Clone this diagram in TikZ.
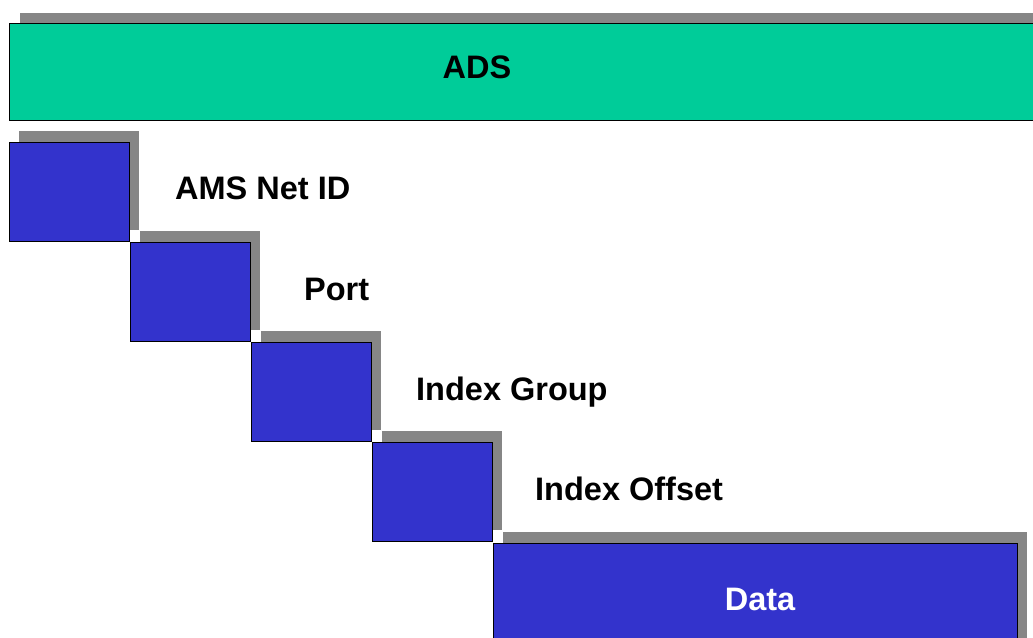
\documentclass[tikz,border=0pt]{standalone}
\usepackage{fontspec}
\setmainfont{Liberation Sans}
\usetikzlibrary{shadows}
\definecolor{adsgreen}{HTML}{00CC99}
\definecolor{boxblue}{HTML}{3333CC}
\definecolor{shadegray}{HTML}{868686}
\begin{document}
\begin{tikzpicture}[x=1pt,y=-1pt,
  lbl/.style={inner sep=0pt,anchor=base west,font=\fontsize{32.5}{38}\selectfont\bfseries},
  shd/.style={drop shadow={shadow xshift=10pt,shadow yshift=11pt,fill=shadegray,opacity=1}},
  stepbox/.style={shd,draw=black,line width=1pt,fill=boxblue,anchor=north west,
    minimum width=120pt,minimum height=99pt,inner sep=0pt,outer sep=0pt}]
\useasboundingbox (0,0) rectangle (1033,637);
\clip (0,0) rectangle (1033,637);
\fill[white] (0,0) rectangle (1033,637);
% ADS bar
\node[shd,draw=black,line width=1pt,fill=adsgreen,anchor=north west,
  minimum width=1050pt,minimum height=97pt,inner sep=0pt] (ads) at (9,23) {};
\node[lbl,anchor=base] (adst) at (477,78) {ADS};
% steps
\node[stepbox] (b1) at (9,142) {};
\node[stepbox] (b2) at (130,242) {};
\node[stepbox] (b3) at (251,342) {};
\node[stepbox] (b4) at (372,442) {};
\node[stepbox,minimum width=524pt,minimum height=130pt] (data) at (493,543) {};
\node[lbl,anchor=base,text=white] (datat) at (760,610) {Data};
% labels
\node[lbl] (l1) at (175,199) {AMS Net ID};
\node[lbl] (l2) at (304,300) {Port};
\node[lbl] (l3) at (416,400) {Index Group};
\node[lbl] (l4) at (535,500) {Index Offset};
\end{tikzpicture}
\end{document}
